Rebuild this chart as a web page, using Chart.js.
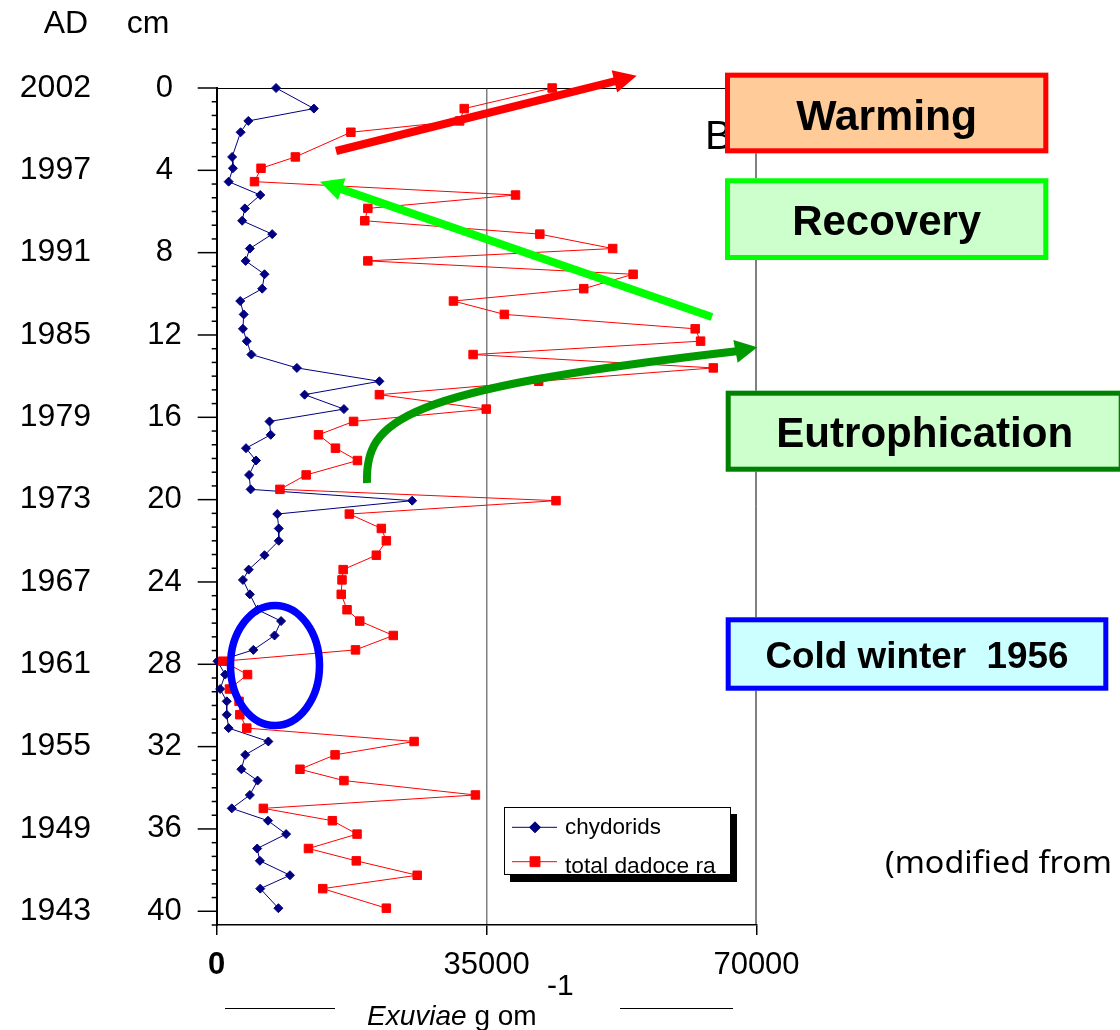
<!DOCTYPE html>
<html>
<head>
<meta charset="utf-8">
<script src="https://cdn.jsdelivr.net/npm/chart.js@4.4.0/dist/chart.umd.min.js"></script>
<style>
  html, body { margin: 0; padding: 0; background: #fff; }
  #wrap { width: 1120px; height: 1030px; }
</style>
</head>
<body>
<div id="wrap"><canvas id="core" width="1120" height="1030"></canvas></div>
<script>
// sample depths (cm)
const depthCm = [0, 1.0, 1.6, 2.15, 3.35, 3.9, 4.55, 5.2, 5.85, 6.45, 7.1, 7.8, 8.4, 9.05, 9.75,
  10.35, 11.0, 11.7, 12.3, 12.95, 13.6, 14.25, 14.9, 15.6, 16.2, 16.85, 17.5, 18.1, 18.8, 19.5,
  20.05, 20.7, 21.4, 22.0, 22.7, 23.4, 23.9, 24.6, 25.35, 25.9, 26.6, 27.3, 27.85, 28.5, 29.2,
  29.8, 30.45, 31.1, 31.75, 32.4, 33.1, 33.65, 34.35, 35.0, 35.6, 36.25, 36.95, 37.55, 38.25, 38.9, 39.85];

const chydorids = [7700, 12600, 4100, 3100, 2000, 2100, 1550, 5650, 3650, 3300,
  7200, 4300, 3750, 6200, 5900, 3050, 3500, 3400, 3900, 4500,
  10400, 21100, 11400, 16500, 6850, 7000, 3800, 5100, 4200, 4400,
  25350, 7850, 8050, 8050, 6200, 4150, 3400, 4300, 5300, 8350,
  7500, 4750, 100, 1100, 450, 1300, 1300, 1550, 6700, 3700,
  3200, 5300, 4300, 1950, 6650, 9000, 5250, 5600, 9500, 5650, 8000];

const totalCladocera = [43500, 32100, 31500, 17400, 10200, 5750, 4900, 38750, 19600, 19200,
  41900, 51350, 19600, 54000, 47600, 30700, 37300, 62050, 62750, 33250,
  64400, 41750, 21100, 34950, 17750, 13200, 15400, 18250, 11600, 8200,
  44000, 17200, 21350, 22000, 20700, 16400, 16250, 16150, 16900, 18550,
  22900, 18000, 800, 4000, 1650, 2900, 3000, 3900, 25600, 15350,
  10800, 16500, 33550, 6050, 15000, 18200, 11900, 18100, 26000, 13750, 22000];

const depthLabels = ['0', '4', '8', '12', '16', '20', '24', '28', '32', '36', '40'];
const yearLabels = ['2002', '1997', '1991', '1985', '1979', '1973', '1967', '1961', '1955', '1949', '1943'];
const xTicks = [0, 35000, 70000];

const FONT = "'Liberation Sans', Arial, sans-serif";
Chart.defaults.font.family = FONT;

// depth axis: minor tick every 2/3 cm, labelled every 4 cm
function depthTicks(scale) {
  const t = [];
  for (let k = 0; k <= 61; k++) t.push({ value: k * 2 / 3 });
  scale.ticks = t;
}

function fitText(ctx, text, x, y, w, align) {
  const m = ctx.measureText(text).width;
  ctx.save();
  ctx.textAlign = align || 'left';
  ctx.translate(x, y);
  ctx.scale(w / m, 1);
  ctx.fillText(text, 0, 0);
  ctx.restore();
}

function arrowHead(ctx, tip, base, halfW, color) {
  const a = Math.atan2(tip[1] - base[1], tip[0] - base[0]);
  ctx.beginPath();
  ctx.moveTo(tip[0], tip[1]);
  ctx.lineTo(base[0] + halfW * Math.sin(a), base[1] - halfW * Math.cos(a));
  ctx.lineTo(base[0] - halfW * Math.sin(a), base[1] + halfW * Math.cos(a));
  ctx.closePath();
  ctx.fillStyle = color;
  ctx.fill();
}

function straightArrow(ctx, from, tip, w, len, halfW, color) {
  const a = Math.atan2(tip[1] - from[1], tip[0] - from[0]);
  const base = [tip[0] - len * Math.cos(a), tip[1] - len * Math.sin(a)];
  ctx.beginPath();
  ctx.moveTo(from[0], from[1]);
  ctx.lineTo(base[0] + Math.cos(a), base[1] + Math.sin(a));
  ctx.lineWidth = w;
  ctx.strokeStyle = color;
  ctx.lineCap = 'butt';
  ctx.stroke();
  arrowHead(ctx, tip, base, halfW, color);
}

function labelBox(ctx, x, y, w, h, fill, stroke, text, font, textW, baseline) {
  ctx.fillStyle = fill;
  ctx.fillRect(x, y, w, h);
  ctx.lineWidth = 5;
  ctx.strokeStyle = stroke;
  ctx.strokeRect(x + 2.5, y + 2.5, w - 5, h - 5);
  ctx.fillStyle = '#000';
  ctx.font = font;
  fitText(ctx, text, x + w / 2, baseline, textW, 'center');
}

const decor = {
  id: 'decor',
  beforeDatasetsDraw(chart) {
    const { ctx, chartArea: a } = chart;
    const ys = chart.scales.y;
    ctx.save();
    // top and right frame lines
    ctx.strokeStyle = '#000';
    ctx.lineWidth = 1;
    ctx.beginPath();
    ctx.moveTo(a.left, a.top + 0.5);
    ctx.lineTo(a.right, a.top + 0.5);
    ctx.moveTo(a.right - 0.5, a.top);
    ctx.lineTo(a.right - 0.5, a.bottom);
    ctx.stroke();
    // depth tick marks
    ctx.lineWidth = 1.5;
    ys.ticks.forEach((t, i) => {
      const py = ys.getPixelForValue(t.value);
      const len = i % 6 === 0 ? 19 : 5;
      ctx.beginPath();
      ctx.moveTo(a.left - len, py);
      ctx.lineTo(a.left, py);
      ctx.stroke();
    });
    ctx.restore();
  },
  afterDraw(chart) {
    const { ctx } = chart;
    ctx.save();
    ctx.fillStyle = '#000';
    ctx.textBaseline = 'alphabetic';

    // column headers
    ctx.font = '32px ' + FONT;
    ctx.textAlign = 'center';
    ctx.fillText('AD', 66, 33);
    ctx.fillText('cm', 148, 33);

    // axis title with side rules
    ctx.lineWidth = 1;
    ctx.strokeStyle = '#000';
    ctx.beginPath();
    ctx.moveTo(225, 1008.5); ctx.lineTo(335, 1008.5);
    ctx.moveTo(620, 1008.5); ctx.lineTo(733, 1008.5);
    ctx.stroke();
    ctx.textAlign = 'left';
    ctx.font = 'italic 28px ' + FONT;
    ctx.fillText('Exuviae', 367, 1025);
    const ex = ctx.measureText('Exuviae').width;
    ctx.font = '28px ' + FONT;
    ctx.fillText(' g om', 367 + ex, 1025);
    ctx.font = '30px ' + FONT;
    ctx.fillText('-1', 547, 995);

    // blue ellipse
    ctx.beginPath();
    ctx.ellipse(275, 665.5, 44.5, 60, 0, 0, Math.PI * 2);
    ctx.lineWidth = 7.5;
    ctx.strokeStyle = '#0000ff';
    ctx.stroke();

    // arrows
    straightArrow(ctx, [336, 151], [636.7, 75.7], 8, 23, 11.5, '#ff0000');
    straightArrow(ctx, [712, 317], [320, 181.7], 8, 23, 11.5, '#00ff00');
    ctx.beginPath();
    ctx.moveTo(367, 483);
    ctx.bezierCurveTo(365, 420, 400, 390, 736.5, 351.2);
    ctx.lineWidth = 8;
    ctx.strokeStyle = '#009900';
    ctx.stroke();
    arrowHead(ctx, [757.3, 347.3], [735.5, 351.4], 11.5, '#009900');

    // "B" partly hidden by box
    ctx.fillStyle = '#000';
    ctx.font = '41px ' + FONT;
    ctx.textAlign = 'left';
    ctx.fillText('B', 705, 149);

    labelBox(ctx, 725, 72.7, 323.3, 80.6, '#ffcc99', '#ff0000', 'Warming', 'bold 42px ' + FONT, 181, 130);
    labelBox(ctx, 725, 178.3, 323.3, 81.7, '#ccffcc', '#00ff00', 'Recovery', 'bold 42px ' + FONT, 189, 235);
    labelBox(ctx, 725.7, 390.7, 398, 81, '#ccffcc', '#008000', 'Eutrophication', 'bold 42px ' + FONT, 297, 446.7);
    labelBox(ctx, 725.7, 617.3, 382.6, 73.4, '#ccffff', '#0000ff', 'Cold winter  1956', 'bold 37px ' + FONT, 303, 668.3);

    // note at right
    ctx.fillStyle = '#000';
    ctx.font = "31px 'Noto Sans', sans-serif";
    fitText(ctx, '(modified from', 885, 873, 227, 'left');

    // legend box with shadow
    ctx.fillStyle = '#000';
    ctx.fillRect(510, 814, 227, 68);
    ctx.fillStyle = '#fff';
    ctx.fillRect(504, 807, 227, 68);
    ctx.lineWidth = 1;
    ctx.strokeStyle = '#000';
    ctx.strokeRect(504.5, 807.5, 226, 67);
    const ds = chart.data.datasets;
    const rows = [827.3, 861.7];
    const widths = [96, 150.7];
    const bases = [834.3, 873.3];
    ds.forEach((d, i) => {
      const y = rows[i];
      ctx.beginPath();
      ctx.moveTo(512, y); ctx.lineTo(557, y);
      ctx.lineWidth = 1;
      ctx.strokeStyle = d.borderColor;
      ctx.stroke();
      ctx.fillStyle = d.backgroundColor;
      ctx.strokeStyle = d.borderColor;
      Chart.helpers.drawPoint(ctx, { pointStyle: d.pointStyle, radius: i === 0 ? 5.5 : 7, borderWidth: 1 }, 535, y);
      ctx.fillStyle = '#000';
      ctx.font = '22px ' + FONT;
      fitText(ctx, d.label, 565, bases[i], widths[i], 'left');
    });
    ctx.restore();
  }
};

new Chart(document.getElementById('core'), {
  type: 'scatter',
  data: {
    datasets: [
      {
        label: 'chydorids',
        data: depthCm.map((d, i) => ({ x: chydorids[i], y: d })),
        showLine: true,
        borderColor: '#000080',
        backgroundColor: '#000080',
        borderWidth: 1,
        pointStyle: 'rectRot',
        pointRadius: 4.5,
        pointBorderWidth: 1,
        order: 1,
        clip: false
      },
      {
        label: 'total dadoce ra',
        data: depthCm.map((d, i) => ({ x: totalCladocera[i], y: d })),
        showLine: true,
        borderColor: '#ff0000',
        backgroundColor: '#ff0000',
        borderWidth: 1,
        pointStyle: 'rect',
        pointRadius: 6,
        pointBorderWidth: 1,
        order: 0,
        clip: false
      }
    ]
  },
  options: {
    responsive: false,
    animation: false,
    devicePixelRatio: 1,
    layout: { padding: { top: 88, right: 363.5, bottom: 0, left: 0 } },
    plugins: { legend: { display: false }, tooltip: { enabled: false } },
    scales: {
      x: {
        type: 'linear',
        position: 'bottom',
        min: 0,
        max: 70000,
        afterBuildTicks: s => { s.ticks = xTicks.map(v => ({ value: v })); },
        afterFit: s => { s.height = 105; },
        ticks: {
          color: '#000',
          padding: 12,
          autoSkip: false,
          maxRotation: 0,
          font: c => ({ size: 31, weight: c.tick && c.tick.value === 0 ? 'bold' : 'normal' }),
          callback: v => String(v)
        },
        grid: {
          color: c => (c.tick && c.tick.value === 35000 ? '#808080' : 'rgba(0,0,0,0)'),
          lineWidth: 1.5,
          tickLength: 10,
          tickColor: '#000',
          tickWidth: 1.5
        },
        border: { display: true, color: '#000', width: 1.5 }
      },
      y: {
        type: 'linear',
        position: 'left',
        reverse: true,
        min: 0,
        max: 122 / 3,
        weight: 0,
        afterBuildTicks: depthTicks,
        afterFit: s => { s.width = 106.7; },
        ticks: {
          color: '#000',
          padding: 35,
          crossAlign: 'center',
          autoSkip: false,
          font: { size: 31 },
          callback: (v, i) => (i % 6 === 0 ? depthLabels[i / 6] : '')
        },
        grid: { display: false, drawTicks: false },
        border: { display: true, color: '#000', width: 2 }
      },
      yAD: {
        type: 'linear',
        position: 'left',
        reverse: true,
        min: 0,
        max: 122 / 3,
        weight: 1,
        afterBuildTicks: depthTicks,
        afterFit: s => { s.width = 110; },
        ticks: {
          color: '#000',
          padding: 19,
          crossAlign: 'center',
          autoSkip: false,
          font: { size: 32 },
          callback: (v, i) => (i % 6 === 0 ? yearLabels[i / 6] : '')
        },
        grid: { display: false, drawTicks: false },
        border: { display: false }
      }
    }
  },
  plugins: [decor]
});
</script>
</body>
</html>
